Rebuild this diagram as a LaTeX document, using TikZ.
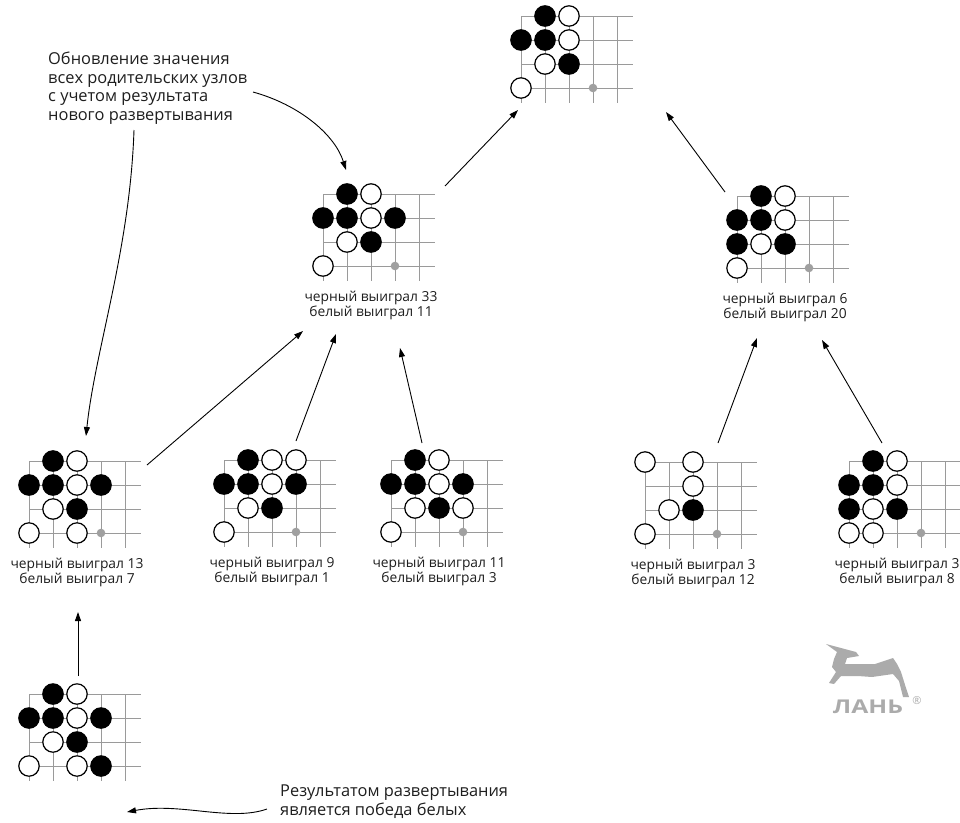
\documentclass[tikz,border=0pt]{standalone}
\usepackage{fontspec}
\setmainfont{Open Sans}
\usetikzlibrary{arrows.meta}

\definecolor{gridgray}{HTML}{9A9A9A}
\definecolor{dotgray}{HTML}{A0A0A0}
\definecolor{inkgray}{HTML}{1E1E1E}
\definecolor{logogray}{HTML}{ABABAB}

% #1 name, #2 top-left intersection, #3 black stones, #4 white stones,
% #5 marked point, #6 score text
\newcommand\goboard[6]{%
  \begin{scope}[shift={#2}]
    \foreach \r in {0,...,3} \draw[gridline] (0,\r*24) -- (112,\r*24);
    \foreach \c in {0,...,4} \draw[gridline] (\c*24,0) -- (\c*24,87);
    \foreach \c/\r in {#5} \fill[markdot] (\c*24,\r*24) circle (4.3);
    \foreach \c/\r in {#3} \draw[blackstone] (\c*24,\r*24) circle (10.2);
    \foreach \c/\r in {#4} \draw[whitestone] (\c*24,\r*24) circle (10.2);
    \node[boardbox] (#1) at (0,0) {};
    \node[scorelabel] (#1-score) at (48,97) {#6};
  \end{scope}}

\begin{document}
\begin{tikzpicture}[x=1pt,y=-1pt,
  gridline/.style={gridgray,line width=1pt},
  markdot/.style={dotgray},
  blackstone/.style={fill=black,draw=black,line width=1.2pt},
  whitestone/.style={fill=white,draw=black,line width=1.2pt},
  boardbox/.style={anchor=north west,inner sep=0pt,minimum width=112pt,minimum height=87pt},
  scorelabel/.style={anchor=north,inner sep=0pt,align=center,text=inkgray,
    font=\fontsize{13.8}{13.6}\selectfont},
  note/.style={anchor=north west,inner sep=0pt,align=left,text=inkgray,
    font=\fontsize{16.4}{18.6}\selectfont},
  link/.style={draw=black,line width=0.9pt,-{Triangle[length=9pt,width=6pt]}}]

\useasboundingbox (0,0) rectangle (960,822);

% root position
\goboard{root}{(521,16)}{1/0,0/1,1/1,2/2}{2/0,2/1,1/2,0/3}{3/3}{}
% second level
\goboard{midL}{(323,194)}{1/0,0/1,1/1,3/1,2/2}{2/0,2/1,1/2,0/3}{3/3}%
  {черный выиграл 33\\белый выиграл 11}
\goboard{midR}{(737,196)}{1/0,0/1,1/1,0/2,2/2}{2/0,2/1,1/2,0/3}{3/3}%
  {черный выиграл 6\\белый выиграл 20}
% third level
\goboard{leafA}{(29,461)}{1/0,0/1,1/1,3/1,2/2}{2/0,2/1,1/2,0/3,2/3}{3/3}%
  {черный выиграл 13\\белый выиграл 7}
\goboard{leafB}{(224,460)}{1/0,0/1,1/1,3/1,2/2}{2/0,3/0,2/1,1/2,0/3}{3/3}%
  {черный выиграл 9\\белый выиграл 1}
\goboard{leafC}{(391,460)}{1/0,0/1,1/1,3/1,2/2}{2/0,2/1,1/2,3/2,0/3}{3/3}%
  {черный выиграл 11\\белый выиграл 3}
\goboard{leafD}{(645,462)}{2/2}{0/0,2/0,2/1,1/2,0/3}{3/3}%
  {черный выиграл 3\\белый выиграл 12}
\goboard{leafE}{(849,461)}{1/0,0/1,1/1,0/2,2/2}{2/0,2/1,1/2,0/3,1/3}{3/3}%
  {черный выиграл 3\\белый выиграл 8}
% new rollout
\goboard{roll}{(29,694)}{1/0,0/1,1/1,3/1,2/2,3/3}{2/0,2/1,1/2,0/3,2/3}{3/3}{}

% annotations
\node[note] (upd) at (48,52) {Обновление значения\\всех родительских узлов\\с учетом результата\\нового развертывания};
\node[note] (res) at (280,785) {Результатом развертывания\\является победа белых};

% connector end points
\coordinate (midL-out) at (445,186);  \coordinate (root-inL) at (518,110);
\coordinate (midR-out) at (725,192);  \coordinate (root-inR) at (666,112);
\coordinate (leafA-out) at (147,465); \coordinate (midL-in1) at (303,331);
\coordinate (leafB-out) at (296,441); \coordinate (midL-in2) at (336,334);
\coordinate (leafC-out) at (422,443); \coordinate (midL-in3) at (400,348);
\coordinate (leafD-out) at (718,443); \coordinate (midR-in1) at (757,338);
\coordinate (leafE-out) at (882,443); \coordinate (midR-in2) at (822,340);
\coordinate (roll-out) at (78,676);   \coordinate (leafA-in) at (78,612);
\coordinate (upd-tail) at (253,92);   \coordinate (upd-head) at (346,170);
\coordinate (upd-tail2) at (134,130); \coordinate (upd-head2) at (86,436);
\coordinate (res-tail) at (267,809);  \coordinate (res-head) at (127,812);

\draw[link] (midL-out) -- (root-inL);
\draw[link] (midR-out) -- (root-inR);
\draw[link] (leafA-out) -- (midL-in1);
\draw[link] (leafB-out) -- (midL-in2);
\draw[link] (leafC-out) -- (midL-in3);
\draw[link] (leafD-out) -- (midR-in1);
\draw[link] (leafE-out) -- (midR-in2);
\draw[link] (roll-out) -- (leafA-in);
\draw[link] (upd-tail) .. controls (300,105) and (335,135) .. (upd-head);
\draw[link] (upd-tail2) .. controls (130,250) and (95,350) .. (upd-head2);
\draw[link] (res-tail) .. controls (230,822) and (180,802) .. (res-head);

% publisher mark
\fill[logogray] (826,644) -- (856,652) -- (859,656) -- (847,658) -- (845,664)
  -- (875,664) -- (893,658) -- (897,664) -- (901,672) -- (906,688) -- (909,697)
  -- (903,697) -- (899,681) -- (893,674) -- (872,677) -- (858,676) -- (841,676)
  -- (834,684) -- (829,683) -- (836,672) -- (832,667) -- (834,659) -- (837,652) -- cycle;
\node[text=logogray,inner sep=0pt,xscale=1.3,font=\bfseries\fontsize{19}{19}\selectfont] (mark) at (868,707) {ЛАНЬ};
\node[text=logogray,inner sep=0pt,font=\fontsize{11}{11}\selectfont] (markr) at (917,701) {®};
\end{tikzpicture}
\end{document}
